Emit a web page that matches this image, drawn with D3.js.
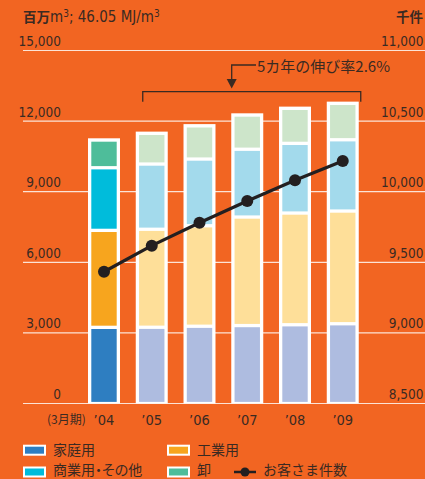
<!DOCTYPE html>
<html><head><meta charset="utf-8">
<script src="https://cdn.jsdelivr.net/npm/d3@7"></script>
<style>
html,body{margin:0;padding:0;background:#F26522;}
svg{display:block;}
text{font-family:"Liberation Sans Narrow","DejaVu Sans Condensed","Liberation Sans",sans-serif;fill:#3a2a22;}
.jp{font-family:"Noto Sans CJK JP","Noto Sans",sans-serif;}
.palt{font-feature-settings:"palt";}
</style></head><body>
<script>
const years = ["'04","'05","'06","'07","'08","'09"];
const seriesNames = ["家庭用","工業用","商業用・その他","卸"];
const residential = [3238,3242,3285,3314,3348,3391];
const industrial  = [4121,4164,4270,4611,4747,4789];
const commercial  = [2661,2771,2834,2881,2961,3029];
const wholesale   = [1177,1304,1411,1453,1487,1546];
const customers   = [9433,9618,9780,9934,10081,10217];
const leftTicks   = [0,3000,6000,9000,12000,15000];
const rightTicks  = [8500,9000,9500,10000,10500,11000];
const vividColors = ["#2E7EC1","#F7A51E","#00BCDB","#4EBD9A"];
const paleColors  = ["#AEBCE0","#FEDF99","#A3DAEC","#CDE5CA"];

const W=425,H=479;
const svg=d3.select("body").append("svg").attr("width",W).attr("height",H);
const y=d3.scaleLinear().domain([0,15000]).range([403.5,50.5]);
const yR=d3.scaleLinear().domain([8500,11000]).range([403.5,50.5]);
const x=d3.scaleBand().domain(years).range([88,358.75]).paddingInner(0.33).paddingOuter(0);
const bw=x.bandwidth();

// gridlines
const grid=svg.append("g");
leftTicks.forEach(t=>{
  grid.append("line").attr("x1",23).attr("x2",W).attr("y1",y(t)).attr("y2",y(t))
    .attr("stroke","#FCE3D6").attr("stroke-width",1.2);
});
// axis labels
const fmt=d3.format(",");
svg.append("g").selectAll("text").data(leftTicks).join("text")
  .attr("x",61).attr("y",d=>y(d)-4.5).attr("text-anchor","end")
  .style("font-size","13.5px").text(d=>fmt(d));
svg.append("g").selectAll("text").data(rightTicks).join("text")
  .attr("x",423.5).attr("y",d=>yR(d)-4.5).attr("text-anchor","end")
  .style("font-size","13.5px").text(d=>fmt(d));

// units
const u=svg.append("text").attr("x",23).attr("y",22).style("font-size","15px");
u.append("tspan").attr("class","jp").style("font-weight","bold").style("font-size","13.5px").text("百万");
u.append("tspan").text("m");
u.append("tspan").attr("dy",-5).style("font-size","10px").text("3");
u.append("tspan").attr("dy",5).text("; 46.05 MJ/m");
u.append("tspan").attr("dy",-5).style("font-size","10px").text("3");
svg.append("text").attr("class","jp").attr("x",423).attr("y",22).attr("text-anchor","end")
  .style("font-size","13.5px").style("font-weight","bold").text("千件");

// stacked bars
const rows=years.map((yr,i)=>({yr,i,vals:[residential[i],industrial[i],commercial[i],wholesale[i]]}));
const bars=svg.append("g");
rows.forEach(r=>{
  const total=d3.sum(r.vals);
  const g=bars.append("g");
  g.append("rect").attr("x",x(r.yr)).attr("width",bw)
    .attr("y",y(total)-1.7).attr("height",y(0)-y(total)+1.7).attr("fill","#fff");
  let cum=0;
  r.vals.forEach((v,k)=>{
    const y0=y(cum), y1=y(cum+v);
    cum+=v;
    g.append("rect").attr("x",x(r.yr)+3.3).attr("width",bw-6.6)
      .attr("y",y1+1.7).attr("height",Math.max(0,(y0-1.6)-(y1+1.7)))
      .attr("fill",(r.i===0?vividColors:paleColors)[k]);
  });
});

// x labels
svg.append("g").selectAll("text").data(years).join("text")
  .attr("x",d=>x(d)+bw/2).attr("y",425).attr("text-anchor","middle")
  .style("font-size","14.5px").text(d=>d.replace("'","’"));
svg.append("text").attr("class","jp").attr("x",47).attr("y",424)
  .style("font-size","12px").text("(3月期)");

// customers line
const line=d3.line().x((d,i)=>x(years[i])+bw/2).y(d=>yR(d));
svg.append("path").datum(customers).attr("d",line).attr("fill","none")
  .attr("stroke","#231f20").attr("stroke-width",3.2);
svg.append("g").selectAll("circle").data(customers).join("circle")
  .attr("cx",(d,i)=>x(years[i])+bw/2).attr("cy",d=>yR(d)).attr("r",6).attr("fill","#231f20");

// annotation bracket
const bxL=x("'05")+7, bxR=x("'09")+bw+2, by=91.7;
svg.append("path").attr("d",`M${bxL},${by+10}V${by}H${bxR}V${by+10}`)
  .attr("fill","none").attr("stroke","#3a2a22").attr("stroke-width",1.3);
const ax=231.7;
svg.append("path").attr("d",`M256,65H${ax}V80`).attr("fill","none").attr("stroke","#3a2a22").attr("stroke-width",1.3);
svg.append("path").attr("d",`M${ax-5},79L${ax+5},79L${ax},88.5Z`).attr("fill","#3a2a22");
svg.append("text").attr("class","jp").attr("x",257).attr("y",72).style("font-size","15px").text("5カ年の伸び率2.6%");

// legend
const leg=svg.append("g");
const legItems=[
  {name:seriesNames[0],c:vividColors[0],x:23,y:450.2,base:454.5},
  {name:seriesNames[1],c:vividColors[1],x:167,y:450.2,base:454.5},
  {name:seriesNames[2],c:vividColors[2],x:23,y:472,base:474.8},
  {name:seriesNames[3],c:vividColors[3],x:167,y:472,base:474.8}
];
legItems.forEach(it=>{
  leg.append("rect").attr("x",it.x+1).attr("y",it.y-4.5).attr("width",21).attr("height",9)
    .attr("fill",it.c).attr("stroke","#fff").attr("stroke-width",2);
  leg.append("text").attr("class","jp palt").attr("x",it.x+30).attr("y",it.base)
    .style("font-size","14px").text(it.name);
});
leg.append("line").attr("x1",234).attr("x2",256).attr("y1",472).attr("y2",472)
  .attr("stroke","#231f20").attr("stroke-width",2.5);
leg.append("circle").attr("cx",245).attr("cy",472).attr("r",4.5).attr("fill","#231f20");
leg.append("text").attr("class","jp").attr("x",263).attr("y",474.8).style("font-size","14px").text("お客さま件数");
</script>
</body></html>
